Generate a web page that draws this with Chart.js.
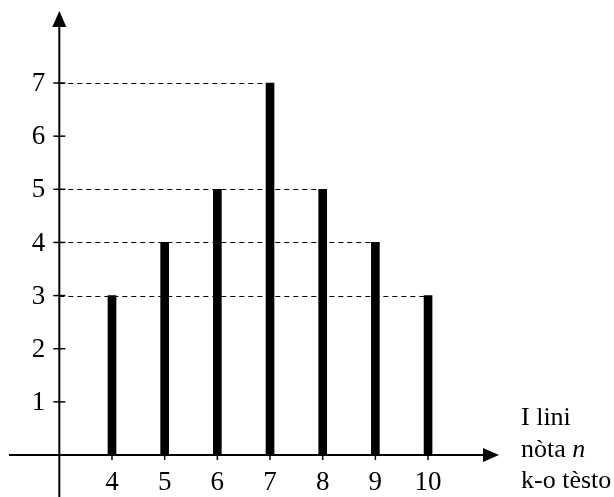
<!DOCTYPE html>
<html>
<head>
<meta charset="utf-8">
<script src="https://cdn.jsdelivr.net/npm/chart.js@4/dist/chart.umd.min.js"></script>
<style>
  body { margin: 0; background: #fff; }
  #wrap { width: 614px; height: 497px; position: relative; }
</style>
</head>
<body>
<div id="wrap"><canvas id="chart"></canvas></div>
<script>
const grades = [4, 5, 6, 7, 8, 9, 10];
const counts = [3, 4, 5, 7, 5, 4, 3];
const yTicks = [1, 2, 3, 4, 5, 6, 7];
const axisLabel = ['I lini', 'nòta ', 'k-o tèsto'];

const FONT = '"Liberation Serif", "Times New Roman", serif';

// axes, ticks, arrows and the dashed guide lines
const axesPlugin = {
  id: 'axes',
  beforeDatasetsDraw(chart) {
    const { ctx, scales: { x, y } } = chart;
    const x0 = x.getPixelForValue(3);
    ctx.save();
    ctx.strokeStyle = '#000';
    ctx.lineWidth = 1;
    ctx.setLineDash([5, 4]);
    // dashed line at each distinct height, out to the last bar with that height
    const seen = {};
    grades.forEach((g, i) => { seen[counts[i]] = g; });
    Object.keys(seen).forEach(v => {
      const py = Math.round(y.getPixelForValue(+v)) + 0.5;
      ctx.beginPath();
      ctx.moveTo(x0, py);
      ctx.lineTo(x.getPixelForValue(seen[v]), py);
      ctx.stroke();
    });
    ctx.restore();
  },
  afterDatasetsDraw(chart) {
    const { ctx, scales: { x, y } } = chart;
    const x0 = x.getPixelForValue(3);
    const y0 = y.getPixelForValue(0);
    ctx.save();
    ctx.strokeStyle = '#000';
    ctx.fillStyle = '#000';
    ctx.lineWidth = 2;
    // y axis
    ctx.beginPath();
    ctx.moveTo(x0, 497);
    ctx.lineTo(x0, 24);
    ctx.stroke();
    ctx.beginPath();
    ctx.moveTo(x0, 11);
    ctx.lineTo(x0 - 7, 27);
    ctx.lineTo(x0 + 7, 27);
    ctx.closePath();
    ctx.fill();
    // x axis
    ctx.beginPath();
    ctx.moveTo(9, y0);
    ctx.lineTo(485, y0);
    ctx.stroke();
    ctx.beginPath();
    ctx.moveTo(499, y0);
    ctx.lineTo(483, y0 - 7);
    ctx.lineTo(483, y0 + 7);
    ctx.closePath();
    ctx.fill();

    ctx.lineWidth = 1.5;
    ctx.font = '27px ' + FONT;
    // y ticks
    ctx.textAlign = 'right';
    ctx.textBaseline = 'middle';
    yTicks.forEach(t => {
      const py = y.getPixelForValue(t);
      ctx.beginPath();
      ctx.moveTo(x0 - 6, py);
      ctx.lineTo(x0 + 6, py);
      ctx.stroke();
      ctx.fillText(String(t), x0 - 14, py + 1);
    });
    // x ticks
    ctx.textAlign = 'center';
    ctx.textBaseline = 'alphabetic';
    grades.forEach(g => {
      const px = x.getPixelForValue(g);
      ctx.beginPath();
      ctx.moveTo(px, y0);
      ctx.lineTo(px, y0 + 5);
      ctx.stroke();
      ctx.fillText(String(g), px, y0 + 35);
    });
    // axis caption
    const cf = '26px ' + FONT;
    ctx.font = cf;
    ctx.textAlign = 'left';
    const lx = 521;
    ctx.fillText(axisLabel[0], lx, y0 - 30);
    ctx.fillText(axisLabel[1], lx, y0 + 2);
    const w = ctx.measureText(axisLabel[1]).width;
    ctx.font = 'italic ' + cf;
    ctx.fillText('n', lx + w, y0 + 2);
    ctx.font = cf;
    ctx.fillText(axisLabel[2], lx, y0 + 33);
    ctx.restore();
  }
};

new Chart(document.getElementById('chart'), {
  type: 'bar',
  data: {
    datasets: [{
      data: grades.map((g, i) => ({ x: g, y: counts[i] })),
      backgroundColor: '#000',
      borderWidth: 0,
      barThickness: 8
    }]
  },
  options: {
    responsive: true,
    maintainAspectRatio: false,
    animation: false,
    layout: { padding: 0 },
    plugins: { legend: { display: false }, tooltip: { enabled: false } },
    scales: {
      x: { type: 'linear', offset: false, min: 1.874, max: 13.53, display: false },
      y: { type: 'linear', min: -0.79, max: 8.562, display: false }
    }
  },
  plugins: [axesPlugin]
});
</script>
</body>
</html>
